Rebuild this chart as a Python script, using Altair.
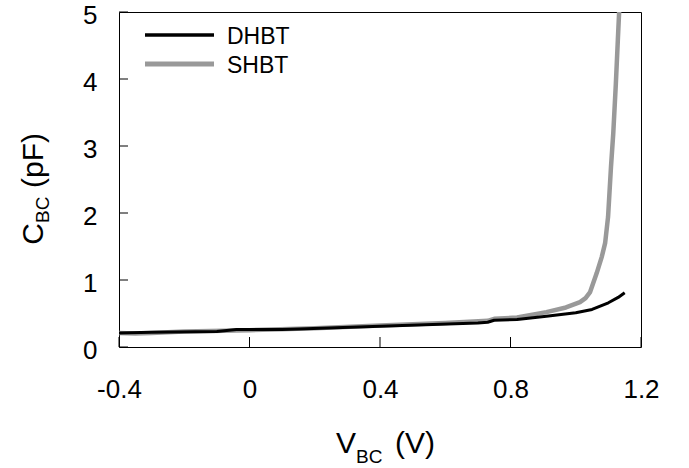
import altair as alt
import pandas as pd

# ---- data ----
dhbt_v = [-0.4, -0.3, -0.1, -0.04, 0.1, 0.15, 0.4, 0.7, 0.73, 0.75, 0.82, 0.91, 1.0, 1.05, 1.1, 1.13, 1.15]
dhbt_c = [0.21, 0.22, 0.23, 0.26, 0.26, 0.27, 0.31, 0.36, 0.37, 0.40, 0.41, 0.46, 0.51, 0.56, 0.66, 0.74, 0.81]

shbt_v = [-0.4, -0.35, -0.3, -0.2, 0.0, 0.2, 0.4, 0.6, 0.73, 0.75, 0.82, 0.91, 0.97, 1.013, 1.03,
          1.044, 1.064, 1.08, 1.09, 1.099, 1.108, 1.115, 1.123, 1.129, 1.133]
shbt_c = [0.21, 0.20, 0.21, 0.23, 0.25, 0.28, 0.32, 0.36, 0.39, 0.42, 0.44, 0.52, 0.59, 0.67, 0.73,
          0.82, 1.10, 1.35, 1.55, 1.94, 2.69, 3.19, 3.94, 4.58, 5.0]

x_ticks = [-0.4, 0, 0.4, 0.8, 1.2]
y_ticks = [0, 1, 2, 3, 4, 5]
series = ["DHBT", "SHBT"]
colors = ["#000000", "#999999"]
widths = [3, 4.5]

W, H = 522, 335
FONT = "Liberation Sans"
TICK_FS = 26
TITLE_FS = 30
SUB_FS = 19
LEG_FS = 23

df_d = pd.DataFrame({"V": dhbt_v, "C": dhbt_c, "o": range(len(dhbt_v))})
df_s = pd.DataFrame({"V": shbt_v, "C": shbt_c, "o": range(len(shbt_v))})

x_scale = alt.Scale(domain=[-0.4, 1.2], nice=False, zero=False)
y_scale = alt.Scale(domain=[0, 5], nice=False)

x_axis = alt.Axis(
    values=x_ticks, title=None, labelPadding=29, labelFontSize=TICK_FS, labelFlush=False,
    labelExpr="datum.value == 0 ? '0' : (datum.value < 0 ? '-' + format(-datum.value, '.1f') : format(datum.value, '.1f'))",
)
y_axis = alt.Axis(values=y_ticks, title=None, labelPadding=22, labelFontSize=TICK_FS, format="d",
                  labelFlush=False, labelOffset=3)


def line(df, color, sw):
    return alt.Chart(df).mark_line(clip=True, color=color, strokeWidth=sw, strokeJoin="round").encode(
        x=alt.X("V:Q", scale=x_scale, axis=x_axis),
        y=alt.Y("C:Q", scale=y_scale, axis=y_axis),
        order="o:Q",
    )


shbt_line = line(df_s, colors[1], widths[1])
dhbt_line = line(df_d, colors[0], widths[0])

# inward ticks
xt = alt.Chart(pd.DataFrame({"v": x_ticks})).mark_rule(color="black", strokeWidth=1).encode(
    x=alt.X("v:Q", scale=x_scale), y=alt.value(H), y2=alt.value(H - 10)
)
yt = alt.Chart(pd.DataFrame({"v": y_ticks})).mark_rule(color="black", strokeWidth=1).encode(
    y=alt.Y("v:Q", scale=y_scale), x=alt.value(0), x2=alt.value(9)
)

# legend
leg_y = [23, 52]
leg_layers = []
for i, s in enumerate(series):
    d = pd.DataFrame({"s": [s]})
    leg_layers.append(
        alt.Chart(d).mark_rule(color=colors[i], strokeWidth=widths[i] + 0.5).encode(
            x=alt.value(26), x2=alt.value(95), y=alt.value(leg_y[i])
        )
    )
    leg_layers.append(
        alt.Chart(d).mark_text(font=FONT, fontSize=LEG_FS, align="left", baseline="middle", color="black").encode(
            text="s:N", x=alt.value(108), y=alt.value(leg_y[i] + 2)
        )
    )


def txt(t, x, y, fs, align="left", angle=0):
    kw = dict(font=FONT, fontSize=fs, align=align, baseline="alphabetic", color="black")
    if angle:
        kw["angle"] = angle
    return alt.Chart(pd.DataFrame({"t": [t]})).mark_text(**kw).encode(
        text="t:N", x=alt.value(x), y=alt.value(y)
    )


titles = [
    txt("V", 237, 441, TITLE_FS, "right"),
    txt("BC", 237, 451, SUB_FS, "left"),
    txt("(V)", 276, 441, TITLE_FS, "left"),
    txt("C", -76, 211, TITLE_FS, "right", 270),
    txt("BC", -70, 211, SUB_FS, "left", 270),
    txt("(pF)", -76, 176, TITLE_FS, "left", 270),
]

chart = alt.layer(shbt_line, dhbt_line, xt, yt, *leg_layers, *titles).properties(
    width=W, height=H,
    autosize=alt.AutoSizeParams(type="none"),
    padding={"left": 119, "top": 12, "right": 48, "bottom": 121},
    background="white",
).configure_view(stroke="black", strokeWidth=1).configure_axis(
    labelFont=FONT, labelColor="black", grid=False, domain=False, ticks=False, tickSize=0
)

chart.save("out.html", embed_options={"renderer": "svg", "actions": False})
